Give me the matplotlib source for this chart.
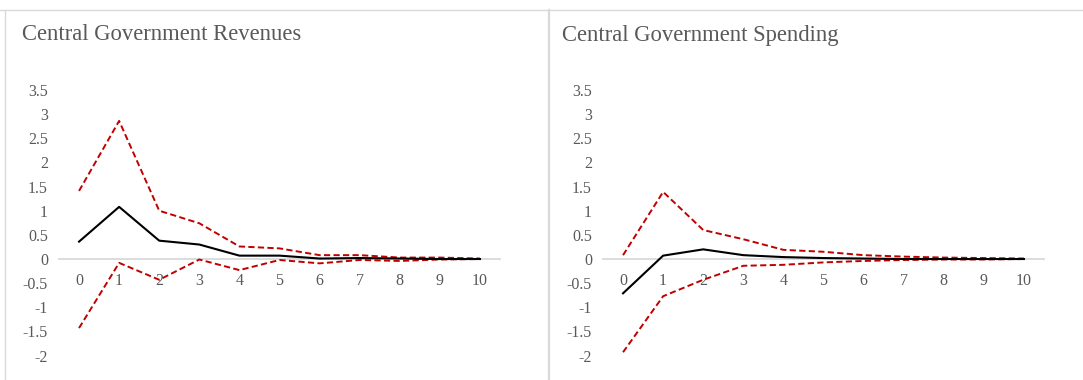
import matplotlib
matplotlib.use("Agg")
import matplotlib.pyplot as plt
from matplotlib.lines import Line2D

plt.rcParams["axes.unicode_minus"] = False
plt.rcParams["font.family"] = ["Liberation Serif", "DejaVu Serif"]

horizon = list(range(11))
y_ticks = [-2, -1.5, -1, -0.5, 0, 0.5, 1, 1.5, 2, 2.5, 3, 3.5]
y_tick_labels = ["-2", "-1.5", "-1", "-0.5", "0", "0.5", "1", "1.5", "2", "2.5", "3", "3.5"]

titles = ["Central Government Revenues", "Central Government Spending"]

rev_mean = [0.36, 1.08, 0.38, 0.30, 0.07, 0.07, 0.01, 0.02, 0.01, 0.00, 0.00]
rev_upper = [1.41, 2.86, 1.00, 0.74, 0.26, 0.22, 0.08, 0.08, 0.03, 0.03, 0.01]
rev_lower = [-1.43, -0.08, -0.43, -0.01, -0.23, -0.02, -0.09, -0.02, -0.04, -0.01, 0.00]

spd_mean = [-0.71, 0.07, 0.20, 0.08, 0.04, 0.02, 0.01, 0.00, 0.00, 0.00, 0.00]
spd_upper = [0.08, 1.39, 0.60, 0.41, 0.19, 0.15, 0.08, 0.05, 0.03, 0.02, 0.01]
spd_lower = [-1.93, -0.77, -0.43, -0.14, -0.12, -0.07, -0.04, -0.02, -0.01, -0.01, 0.00]

series = [(rev_mean, rev_upper, rev_lower), (spd_mean, spd_upper, spd_lower)]

W, H = 1083, 380
fig = plt.figure(figsize=(W / 100, H / 100), dpi=100)
fig.patch.set_facecolor("white")

text_grey = "#595959"
band_red = "#C00000"
frame_grey = "#D9D9D9"

# panel frames
fig.add_artist(Line2D([0, 1], [1 - 9.5 / H] * 2, transform=fig.transFigure,
                      color=frame_grey, lw=1.0))
fig.add_artist(Line2D([5.0 / W] * 2, [0, 1 - 9.5 / H], transform=fig.transFigure,
                      color=frame_grey, lw=1.0))
fig.add_artist(Line2D([548.5 / W] * 2, [0, 1 - 9.5 / H], transform=fig.transFigure,
                      color=frame_grey, lw=1.6))

axes_left = [59 / W, 603 / W]
title_x = [22 / W, 562 / W]
bottom = 1 - 355.6 / H
height = (355.6 - 90) / H
width = 441 / W

for i in range(2):
    ax = fig.add_axes([axes_left[i], bottom, width, height])
    mean, upper, lower = series[i]
    ax.plot(horizon, upper, color=band_red, lw=1.4, linestyle=(0, (3.2, 1.7)), zorder=3)
    ax.plot(horizon, lower, color=band_red, lw=1.4, linestyle=(0, (3.2, 1.7)), zorder=3)
    ax.plot(horizon, mean, color="black", lw=1.5, zorder=4)

    ax.set_xlim(-0.5, 10.5)
    ax.set_ylim(-2, 3.5)
    ax.set_yticks(y_ticks)
    ax.set_yticklabels(y_tick_labels)
    ax.set_xticks(horizon)
    ax.set_xticklabels([str(h) for h in horizon])

    for side in ["left", "right", "top"]:
        ax.spines[side].set_visible(False)
    ax.spines["bottom"].set_position(("data", 0))
    ax.spines["bottom"].set_color(frame_grey)
    ax.spines["bottom"].set_linewidth(1.3)
    ax.spines["bottom"].set_zorder(1)

    ax.tick_params(axis="y", length=0, pad=8, labelsize=11.5, labelcolor=text_grey)
    ax.tick_params(axis="x", length=0, pad=10, labelsize=11.5, labelcolor=text_grey)
    ax.set_facecolor("none")

    fig.text(title_x[i], 1 - 35 / H, titles[i], fontsize=16.3, color=text_grey,
             ha="left", va="center")

fig.savefig("out.png", dpi=100, facecolor="white")
